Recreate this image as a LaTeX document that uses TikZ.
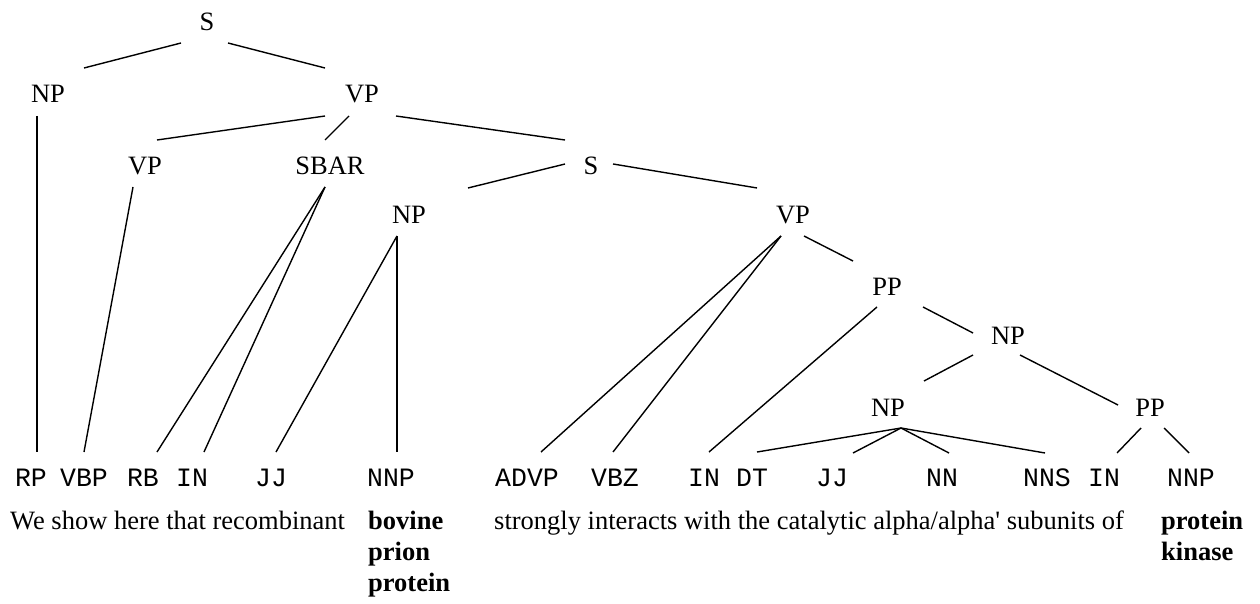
\documentclass[tikz,border=0pt]{standalone}
\usepackage{fontspec}
\setmainfont{Liberation Serif}[Ligatures=TeXOff]
\newfontfamily\tagfont{Liberation Mono}
\usetikzlibrary{calc}
\newcommand\tedge[4]{\draw[edge] ($(#1.base)+(#2)$) -- ($(#3.base)+(#4)$);}
\begin{document}
\begin{tikzpicture}[x=1pt,y=-1pt,
  every node/.style={inner sep=0pt, font=\fontsize{26.5}{31}\selectfont},
  lab/.style={anchor=base},
  tag/.style={anchor=base, font=\fontsize{26.5}{31}\selectfont\tagfont},
  word/.style={anchor=base west},
  bword/.style={anchor=base west, font=\fontsize{26.5}{31}\selectfont\bfseries},
  edge/.style={line width=1.4pt, line cap=butt}]
\fill[white] (0,0) rectangle (1260,604);
\useasboundingbox (0,0) rectangle (1260,604);
% nonterminals
\node[lab] (S0) at (207,31) {S};
\node[lab] (NP1) at (48,103) {NP};
\node[lab] (VP1) at (362,103) {VP};
\node[lab] (VP2) at (145,175) {VP};
\node[lab] (SBAR) at (330,175) {SBAR};
\node[lab] (S2) at (591,175) {S};
\node[lab] (NP3) at (409,223) {NP};
\node[lab] (VP3) at (793,223) {VP};
\node[lab] (PP4) at (887,295) {PP};
\node[lab] (NP5) at (1008,344) {NP};
\node[lab] (NP6) at (888,416) {NP};
\node[lab] (PP6) at (1150,416) {PP};
% tags
\node[tag] (RP) at (31,486) {RP};
\node[tag] (VBP) at (84,486) {VBP};
\node[tag] (RB) at (143,486) {RB};
\node[tag] (IN1) at (192,486) {IN};
\node[tag] (JJ1) at (271,486) {JJ};
\node[tag] (NNP1) at (391,486) {NNP};
\node[tag] (ADVP) at (527,486) {ADVP};
\node[tag] (VBZ) at (615,486) {VBZ};
\node[tag] (IN2) at (704,486) {IN};
\node[tag] (DT) at (752,486) {DT};
\node[tag] (JJ2) at (832,486) {JJ};
\node[tag] (NN) at (942,486) {NN};
\node[tag] (NNS) at (1047,486) {NNS};
\node[tag] (IN3) at (1104,486) {IN};
\node[tag] (NNP2) at (1191,486) {NNP};
% words
\node[word] (w1) at (10,529) {We show here that recombinant};
\node[bword] (w2a) at (368,529) {bovine};
\node[bword] (w2b) at (368,560) {prion};
\node[bword] (w2c) at (368,591) {protein};
\node[word] (w3) at (494,529) {strongly interacts with the catalytic alpha/alpha' subunits of};
\node[bword] (w4a) at (1161,529) {protein};
\node[bword] (w4b) at (1161,560) {kinase};
% edges
\tedge{S0}{-26,12}{NP1}{36,-35}
\tedge{S0}{21,12}{VP1}{-37,-35}
\tedge{NP1}{-11,13}{RP}{6,-34}
\tedge{VP1}{-37,13}{VP2}{12,-35}
\tedge{VP1}{-13,13}{SBAR}{-5,-35}
\tedge{VP1}{34,13}{S2}{-26,-35}
\tedge{VP2}{-12,12}{VBP}{0,-34}
\tedge{SBAR}{-5,12}{RB}{14,-34}
\tedge{SBAR}{-5,12}{IN1}{12,-34}
\tedge{S2}{-26,-11}{NP3}{59,-35}
\tedge{S2}{22,-11}{VP3}{-36,-35}
\tedge{NP3}{-12,13}{JJ1}{5,-34}
\tedge{NP3}{-12,13}{NNP1}{6,-34}
\tedge{VP3}{-12,13}{ADVP}{14,-34}
\tedge{VP3}{-12,13}{VBZ}{-2,-34}
\tedge{VP3}{11,13}{PP4}{-34,-34}
\tedge{PP4}{-10,12}{IN2}{5,-34}
\tedge{PP4}{36,12}{NP5}{-35,-11}
\tedge{NP5}{-35,11}{NP6}{36,-35}
\tedge{NP5}{12,11}{PP6}{-32,-11}
\tedge{PP6}{-9,12}{IN3}{13,-33}
\tedge{PP6}{14,12}{NNP2}{-2,-33}
\tedge{NP6}{13,12}{DT}{5,-34}
\tedge{NP6}{13,12}{JJ2}{21,-33}
\tedge{NP6}{13,12}{NN}{7,-33}
\tedge{NP6}{13,12}{NNS}{-2,-33}
\end{tikzpicture}
\end{document}
